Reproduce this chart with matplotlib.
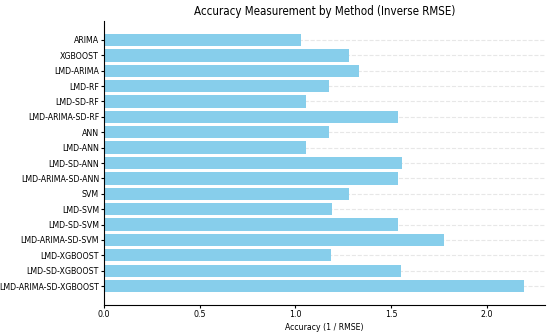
import matplotlib
matplotlib.use("Agg")
import matplotlib.pyplot as plt

methods = ["ARIMA", "XGBOOST", "LMD-ARIMA", "LMD-RF", "LMD-SD-RF", "LMD-ARIMA-SD-RF",
           "ANN", "LMD-ANN", "LMD-SD-ANN", "LMD-ARIMA-SD-ANN", "SVM", "LMD-SVM",
           "LMD-SD-SVM", "LMD-ARIMA-SD-SVM", "LMD-XGBOOST", "LMD-SD-XGBOOST",
           "LMD-ARIMA-SD-XGBOOST"]
accuracy = [1.03, 1.28, 1.335, 1.174, 1.055, 1.535,
            1.174, 1.055, 1.556, 1.537, 1.28, 1.189,
            1.534, 1.776, 1.187, 1.55, 2.195]

# the reference text is squeezed, condensed DejaVu is closest
plt.rcParams['font.family'] = ['DejaVu Sans']
plt.rcParams['font.stretch'] = 'condensed'

fig = plt.figure(figsize=(5.5, 3.32), dpi=100)
ax = fig.add_axes([0.189, 0.081, 0.802, 0.856])

ax.barh(methods, accuracy, color="skyblue", zorder=2)
ax.invert_yaxis()
ax.grid(axis="y", linestyle="--", alpha=0.7, color="#dddddd", zorder=0)
ax.spines["top"].set_visible(False)
ax.spines["right"].set_visible(False)

ax.set_title("Accuracy Measurement by Method (Inverse RMSE)", fontsize=8.3, pad=4)
ax.set_xlabel("Accuracy (1 / RMSE)", fontsize=6.2, labelpad=3)
ax.tick_params(axis="both", labelsize=6.3, length=2, pad=1.5)

fig.savefig("out.png", dpi=100)
